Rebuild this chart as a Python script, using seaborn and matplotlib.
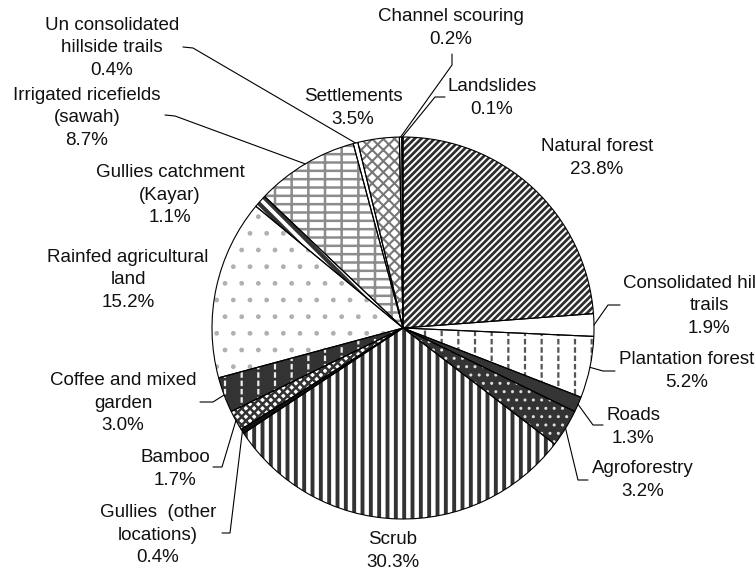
import numpy as np
import matplotlib
matplotlib.use("Agg")
import matplotlib.pyplot as plt
import seaborn as sns

# land use shares, clockwise from 12 o'clock
categories = ["Natural forest", "Consolidated hillside\ntrails", "Plantation forest",
              "Roads", "Agroforestry", "Scrub", "Gullies  (other\nlocations)", "Bamboo",
              "Coffee and mixed\ngarden", "Rainfed agricultural\nland",
              "Gullies catchment\n(Kayar)", "Irrigated ricefields\n(sawah)",
              "Un consolidated\nhillside trails", "Settlements", "Channel scouring",
              "Landslides"]
shares = [23.8, 1.9, 5.2, 1.3, 3.2, 30.3, 0.4, 1.7, 3.0, 15.2, 1.1, 8.7, 0.4, 3.5, 0.2, 0.1]

# fill, hatch, hatch colour, hatch width for each slice (black & white print style)
styles = [
    ("white", "/////", "#2e2e2e", 2.0),
    ("white", "", "white", 1.0),
    ("white", "|", "#555555", 1.6),
    ("#353535", "", "#353535", 1.0),
    ("#333333", "..", "#dddddd", 1.0),
    ("white", "||", "#333333", 2.8),
    ("#111111", "", "#111111", 1.0),
    ("white", "xxxx", "#333333", 1.8),
    ("#333333", "|", "#eeeeee", 1.6),
    ("white", ".", "#b0b0b0", 1.0),
    ("white", "\\\\\\", "#333333", 3.0),
    ("white", "--|", "#8c8c8c", 1.8),
    ("white", "", "white", 1.0),
    ("white", "xxx", "#777777", 1.5),
    ("white", "", "white", 1.0),
    ("white", "", "white", 1.0),
]
# second hatch layer that cuts the vertical lines into dashes
dash_layer = {2: ("--", "white", 2.0), 8: ("--", "#333333", 2.0)}

# label centres in pixels (y down) and leader line text-end / elbow points
label_pos = [(597, 158), (709, 306), (687, 371), (633, 427), (643, 480), (393, 551),
             (158, 535), (175, 469), (123, 403), (128, 280), (170, 195), (87, 118),
             (112, 48), (353, 108), (451, 28), (492, 98)]
leaders = [None, ((620, 305), (608, 305)), ((615, 371), (603, 371)),
           ((603, 425), (593, 425)), ((588, 480), (578, 480)), None,
           ((222, 533), (230, 533)), ((213, 467), (222, 467)), ((200, 402), (213, 402)),
           None, None, ((165, 115), (175, 116)), ((183, 47), (193, 48)), None,
           ((452, 54), (452, 65)), ((445, 97), (435, 97))]

W, H = 756, 574
cx, cy, R = 403, 328, 191

sns.set_theme(style="white")
plt.rcParams["font.family"] = ["Liberation Sans", "DejaVu Sans"]
plt.rcParams["hatch.linewidth"] = 1.0


def hatch_width(patch, lw):
    # hatch width is a global rc setting, so swap it in while this wedge draws
    if hasattr(patch, "_hatch_linewidth"):
        patch._hatch_linewidth = lw
    orig = patch.draw

    def draw(renderer):
        with plt.rc_context({"hatch.linewidth": lw}):
            orig(renderer)
    patch.draw = draw


fig = plt.figure(figsize=(W / 100, H / 100), dpi=100)
ax = fig.add_axes([0, 0, 1, 1])

pie_kw = dict(startangle=90, counterclock=False, center=(cx, H - cy), radius=R, frame=True)

wedges, _ = ax.pie(shares, wedgeprops=dict(linewidth=0), **pie_kw)
for w, (fc, hatch, hc, hlw) in zip(wedges, styles):
    w.set_facecolor(fc)
    w.set_edgecolor(hc)
    w.set_linewidth(0)
    if hatch:
        w.set_hatch(hatch)
        hatch_width(w, hlw)

extra, _ = ax.pie(shares, colors=["none"] * len(shares), wedgeprops=dict(linewidth=0), **pie_kw)
for i, w in enumerate(extra):
    if i in dash_layer:
        hatch, hc, hlw = dash_layer[i]
        w.set_edgecolor(hc)
        w.set_hatch(hatch)
        hatch_width(w, hlw)
    else:
        w.set_visible(False)

outline, _ = ax.pie(shares, colors=["none"] * len(shares),
                    wedgeprops=dict(edgecolor="black", linewidth=0.8), **pie_kw)

for w, cat, v, (lx, ly), ld in zip(wedges, categories, shares, label_pos, leaders):
    ax.text(lx, H - ly, f"{cat}\n{v:.1f}%", ha="center", va="center",
            fontsize=13.5, linespacing=1.4, color="#111111")
    if ld is not None:
        mid = np.deg2rad((w.theta1 + w.theta2) / 2)
        axx = cx + R * np.cos(mid)
        ayy = (H - cy) + R * np.sin(mid)
        (tx, ty), (ex, ey) = ld
        ax.plot([tx, ex, axx], [H - ty, H - ey, ayy], color="black", lw=0.8)

ax.set_xlim(0, W)
ax.set_ylim(0, H)
ax.axis("off")

fig.savefig("out.png", dpi=100)
